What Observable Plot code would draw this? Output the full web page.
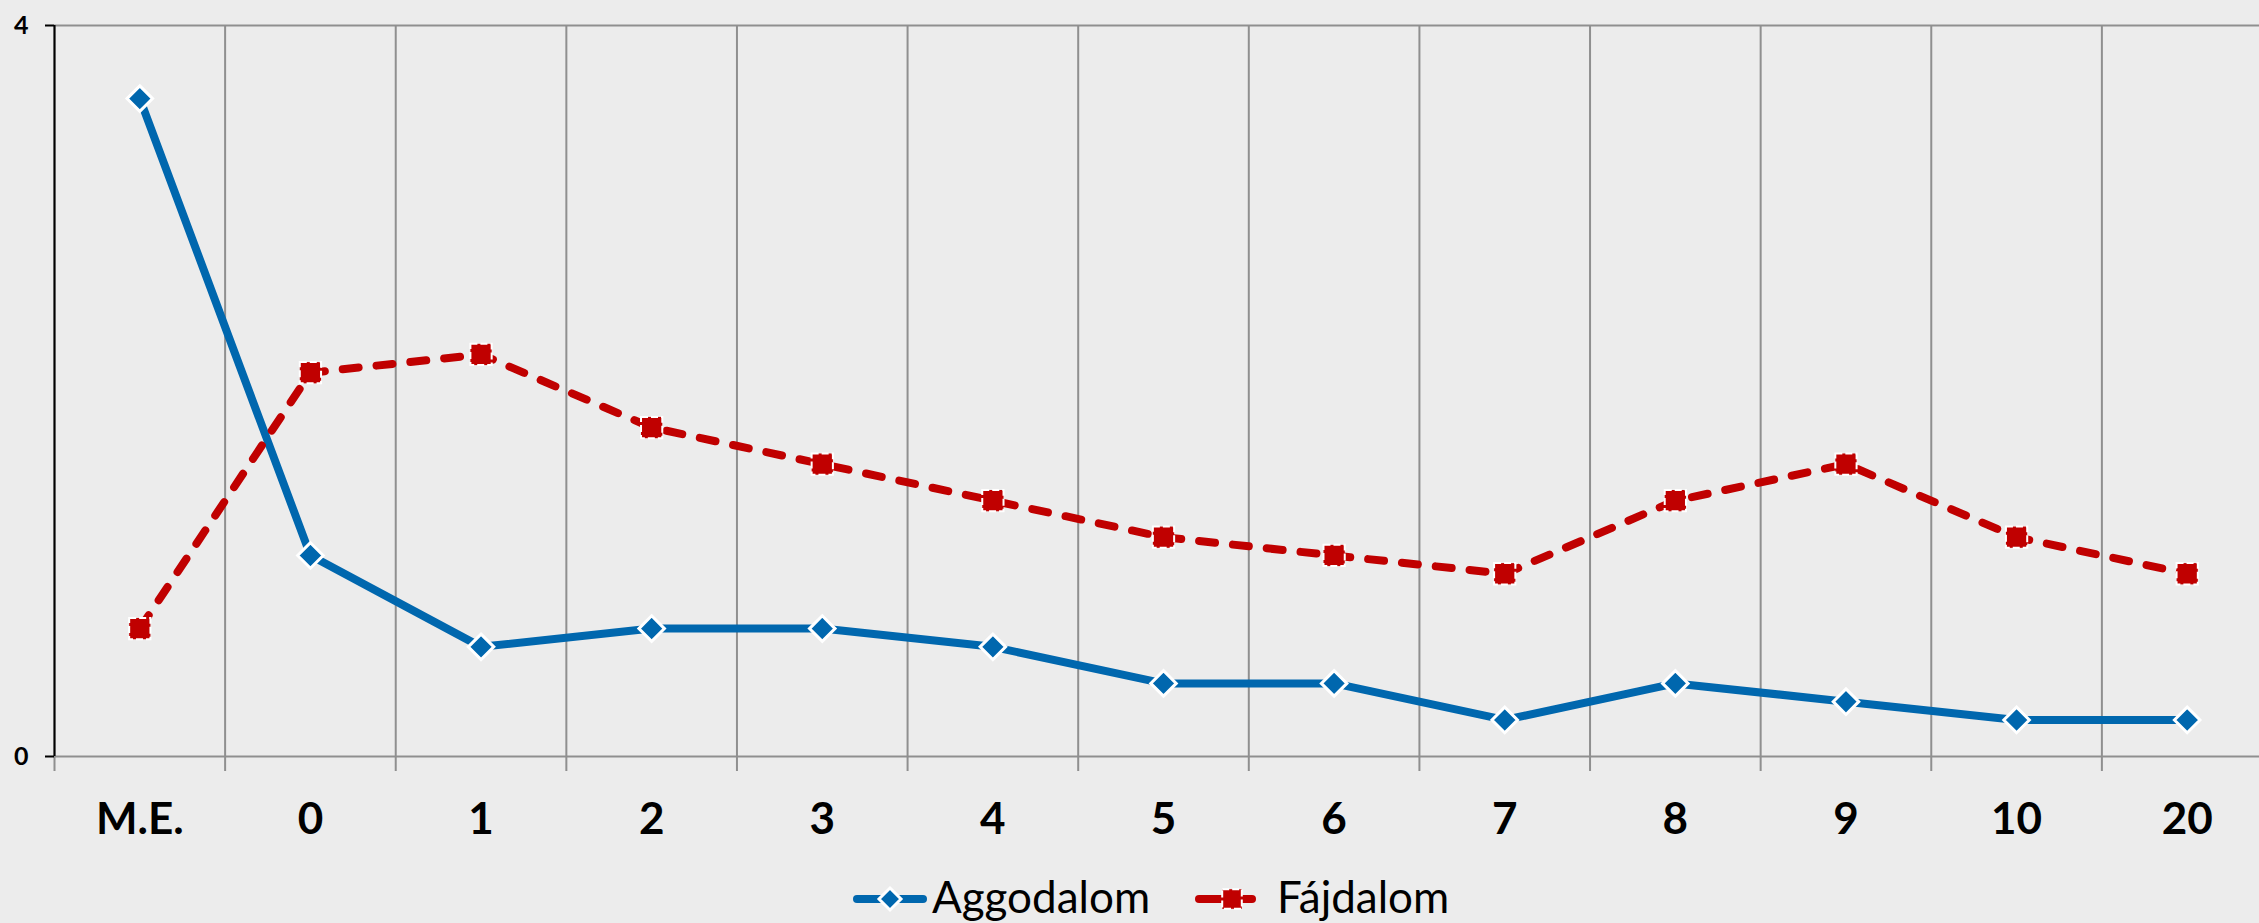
<!DOCTYPE html>
<html><head><meta charset="utf-8">
<script src="https://cdn.jsdelivr.net/npm/d3@7"></script>
<script src="https://cdn.jsdelivr.net/npm/@observablehq/plot@0.6"></script>
<style>
html,body{margin:0;padding:0;background:#ececec;overflow:hidden;}
#chart svg{display:block}
#legend{display:block}
</style></head><body>
<div id="chart"></div>
<svg id="legend" width="2259" height="63"></svg>
<script>
const categories = ["M.E.","0","1","2","3","4","5","6","7","8","9","10","20"];
const aggodalom = [3.6,1.1,0.6,0.7,0.7,0.6,0.4,0.4,0.2,0.4,0.3,0.2,0.2];
const fajdalom  = [0.7,2.1,2.2,1.8,1.6,1.4,1.2,1.1,1.0,1.4,1.6,1.2,1.0];
const seriesNames = ["Aggodalom","Fájdalom"];
const seriesColors = ["#0067ae","#c00000"];
const yTicks = [0, 4];
const yTickLabels = ["0", "4"];

const gray = "#8f8f8f";
const idx = categories.map((_, i) => i);
const bounds = d3.range(-0.5, categories.length, 1);
const rowsA = categories.map((c, i) => ({i, cat: c, value: aggodalom[i]}));
const rowsF = categories.map((c, i) => ({i, cat: c, value: fajdalom[i]}));

const chart = Plot.plot({
  width: 2259, height: 860,
  marginTop: 25, marginBottom: 104, marginLeft: 54, marginRight: 0,
  style: {background: "#ececec", color: "black", fontFamily: "Lato, sans-serif"},
  x: {type: "linear", domain: [-0.5, categories.length - 0.5], range: [54, 2272], axis: null, label: null},
  y: {domain: [0, 4], axis: null, label: null},
  marks: [
    Plot.gridX(bounds, {stroke: gray, strokeOpacity: 1, strokeWidth: 2}),
    Plot.gridY([yTicks[1]], {stroke: gray, strokeOpacity: 1, strokeWidth: 2}),
    Plot.ruleY([yTicks[0]], {stroke: gray, strokeWidth: 2}),
    Plot.axisX(bounds, {tickSize: 15, tickFormat: () => "", stroke: gray, strokeWidth: 2, label: null}),
    Plot.axisX(idx, {tickSize: 0, tickPadding: 46, tickFormat: i => categories[i], fontSize: 44, fontWeight: "bold", label: null}),
    Plot.ruleX([bounds[0]], {stroke: "black", strokeWidth: 2}),
    Plot.axisY(yTicks, {tickSize: 9, tickPadding: 17, tickFormat: (d, i) => yTickLabels[i], fontSize: 25, fontWeight: "bold", strokeWidth: 2, label: null}),
    Plot.line(rowsA, {x: "i", y: "value", stroke: seriesColors[0], strokeWidth: 8, strokeLinejoin: "round", strokeLinecap: "round"}),
    Plot.dot(rowsA, {x: "i", y: "value", symbol: "diamond2", r: 11.5, fill: seriesColors[0], stroke: "white", strokeWidth: 3}),
    Plot.line(rowsF, {x: "i", y: "value", stroke: seriesColors[1], strokeWidth: 8, strokeDasharray: "16,18", strokeLinejoin: "round", strokeLinecap: "round"}),
    Plot.dot(rowsF, {x: "i", y: "value", symbol: "square", r: 12, fill: seriesColors[1], stroke: "white", strokeWidth: 2, strokeDasharray: "7,3"})
  ]
});
document.getElementById("chart").appendChild(chart);

// legend below the chart
const lg = d3.select("#legend");
const items = [
  {name: seriesNames[0], color: seriesColors[0], x1: 857, x2: 923, mx: 890, tx: 932, sym: "diamond"},
  {name: seriesNames[1], color: seriesColors[1], x1: 1199, x2: 1252, mx: 1232, tx: 1277, sym: "square"}
];
const cy = 39;
for (const it of items) {
  lg.append("line").attr("x1", it.x1).attr("x2", it.x2).attr("y1", cy).attr("y2", cy)
    .attr("stroke", it.color).attr("stroke-width", 8).attr("stroke-linecap", "round");
  if (it.sym === "diamond") {
    const h = 11;
    lg.append("path").attr("d", `M${it.mx},${cy-h}L${it.mx+h},${cy}L${it.mx},${cy+h}L${it.mx-h},${cy}Z`)
      .attr("fill", it.color).attr("stroke", "white").attr("stroke-width", 3);
  } else {
    const h = 9.8;
    lg.append("rect").attr("x", it.mx - h).attr("y", cy - h).attr("width", 2*h).attr("height", 2*h)
      .attr("fill", it.color).attr("stroke", "white").attr("stroke-width", 2).attr("stroke-dasharray", "7,3");
  }
  lg.append("text").attr("x", it.tx).attr("y", 53).attr("font-family", "Lato, sans-serif")
    .attr("font-size", 44).attr("fill", "black").text(it.name);
}
</script>
</body></html>
